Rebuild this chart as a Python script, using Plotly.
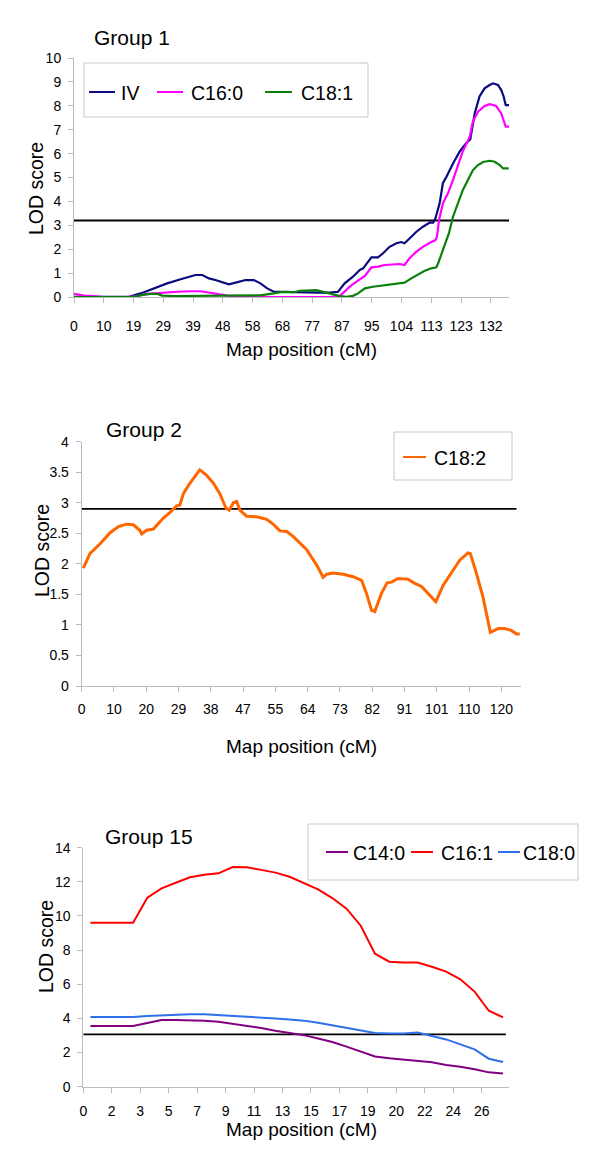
import plotly.graph_objects as go

W, H = 600, 1150
PAGE_OFFSET = 8  # the page body margin shifts the figure by 8 px
FONT = "Liberation Sans, Arial, Helvetica, sans-serif"

# ---------------- Group 1 ----------------
g1_ticktext = ["0", "10", "19", "29", "39", "48", "58", "68", "77", "87", "95", "104", "113", "123", "132"]
g1_threshold = 3.2

g1_iv_x = [0, 1.85, 2.24, 2.68, 3.13, 3.58, 3.91, 4.08, 4.31, 4.53, 4.75, 5.09, 5.2, 5.43, 5.59, 5.76,
           6.04, 6.26, 6.49, 6.71, 7.1, 7.38, 8.26, 8.59, 8.87, 9.09, 9.37, 9.6, 9.71, 9.88, 9.99, 10.21,
           10.38, 10.6, 10.83, 10.99, 11.1, 11.27, 11.5, 11.72, 11.95, 12.06, 12.14, 12.28, 12.39, 12.51,
           12.73, 12.96, 13.15, 13.31, 13.46, 13.62, 13.79, 13.96, 14.07, 14.24, 14.35, 14.43, 14.5, 14.61]
g1_iv_lod = [0.01, 0.01, 0.15, 0.36, 0.57, 0.74, 0.88, 0.92, 0.92, 0.78, 0.71, 0.57, 0.53, 0.6, 0.64, 0.71,
             0.71, 0.57, 0.36, 0.22, 0.22, 0.2, 0.18, 0.18, 0.22, 0.57, 0.85, 1.13, 1.2, 1.48, 1.66, 1.66,
             1.83, 2.1, 2.25, 2.3, 2.25, 2.45, 2.73, 2.94, 3.11, 3.11, 3.29, 3.92, 4.76, 5.03,
             5.59, 6.1, 6.4, 6.6, 7.69, 8.39, 8.73, 8.87, 8.94, 8.87, 8.66, 8.39, 8.03, 8.03]

g1_c160_x = [0, 0.34, 0.67, 1.0, 1.79, 2.13, 2.46, 2.68, 3.13, 3.47, 3.91, 4.25, 4.47, 4.81, 5.15, 5.59,
             6.26, 6.38, 8.59, 8.93, 9.09, 9.26, 9.49, 9.65, 9.77, 9.99, 10.21, 10.44, 10.72, 10.94, 11.1,
             11.27, 11.5, 11.72, 11.95, 12.14, 12.19, 12.26, 12.39, 12.56, 12.73, 12.9, 13.06, 13.29, 13.4,
             13.57, 13.79, 13.96, 14.18, 14.35, 14.5, 14.61]
g1_c160_lod = [0.13, 0.06, 0.04, 0.0, 0.0, 0.04, 0.13, 0.15, 0.21, 0.22, 0.24, 0.24, 0.2, 0.13, 0.06, 0.04,
               0.04, 0.0, 0.0, 0.04, 0.22, 0.43, 0.64, 0.78, 0.88, 1.24, 1.27, 1.34, 1.38, 1.38, 1.34,
               1.62, 1.9, 2.1, 2.27, 2.38, 2.52, 3.22, 3.92, 4.34, 4.9, 5.5, 6.1, 6.7, 7.35,
               7.75, 7.99, 8.07, 7.99, 7.68, 7.13, 7.13]

g1_c181_x = [0, 2.0, 2.24, 2.57, 2.8, 2.96, 3.36, 6.04, 6.26, 6.71, 6.94, 7.38, 7.58, 8.14, 8.37, 8.59,
             8.93, 9.15, 9.37, 9.54, 9.77, 10.04, 10.49, 10.94, 11.1, 11.33, 11.56, 11.78, 12.0, 12.17,
             12.23, 12.39, 12.59, 12.73, 12.9, 13.06, 13.23, 13.4, 13.57, 13.74, 13.96, 14.13, 14.3, 14.41, 14.6]
g1_c181_lod = [0.0, 0.0, 0.08, 0.13, 0.13, 0.06, 0.04, 0.04, 0.07, 0.15, 0.2, 0.2, 0.26, 0.29, 0.22, 0.13,
               0.04, 0.01, 0.05, 0.15, 0.36, 0.43, 0.5, 0.57, 0.6, 0.78, 0.95, 1.1, 1.2, 1.24,
               1.41, 1.97, 2.66, 3.36, 3.92, 4.48, 4.9, 5.31, 5.52, 5.65, 5.7, 5.66, 5.52, 5.38, 5.38]

# ---------------- Group 2 ----------------
g2_ticktext = ["0", "10", "20", "29", "38", "47", "55", "64", "73", "82", "91", "101", "110", "120"]
g2_threshold = 2.9

g2_c182_x = [0.05, 0.26, 0.57, 0.88, 1.14, 1.39, 1.6, 1.8, 1.86, 2.01, 2.22, 2.53, 2.73, 2.94, 3.04, 3.15,
             3.35, 3.56, 3.66, 3.87, 4.08, 4.28, 4.47, 4.57, 4.7, 4.8, 4.9, 5.11, 5.42, 5.73, 5.93, 6.14,
             6.35, 6.55, 6.76, 6.97, 7.28, 7.48, 7.59, 7.79, 8.1, 8.41, 8.67, 8.82, 8.98, 9.08, 9.29, 9.46,
             9.6, 9.8, 10.11, 10.32, 10.53, 10.73, 10.97, 11.2, 11.46, 11.71, 11.97, 12.04, 12.23, 12.43,
             12.66, 12.9, 13.1, 13.31, 13.47, 13.57]
g2_c182_lod = [1.93, 2.17, 2.33, 2.51, 2.61, 2.65, 2.64, 2.55, 2.49, 2.55, 2.57, 2.75, 2.84, 2.95, 2.96, 3.15,
               3.32, 3.48, 3.54, 3.45, 3.32, 3.15, 2.91, 2.88, 3.0, 3.02, 2.88, 2.78, 2.77, 2.73, 2.65, 2.54,
               2.53, 2.45, 2.34, 2.23, 1.98, 1.78, 1.83, 1.85, 1.83, 1.79, 1.73, 1.52, 1.24, 1.22, 1.52, 1.69,
               1.7, 1.76, 1.75, 1.68, 1.63, 1.52, 1.38, 1.65, 1.87, 2.06, 2.18, 2.17, 1.84, 1.46,
               0.88, 0.94, 0.94, 0.91, 0.85, 0.85]

# ---------------- Group 15 ----------------
g15_ticktext = ["0", "2", "3", "5", "7", "9", "11", "13", "15", "17", "19", "20", "22", "24", "26"]
g15_threshold = 3.07
g15_x = [0.25, 0.75, 1.25, 1.75, 2.25, 2.75, 3.25, 3.75, 4.25, 4.75, 5.25, 5.75, 6.25, 6.75, 7.25,
         7.75, 8.25, 8.75, 9.25, 9.75, 10.25, 10.75, 11.25, 11.75, 12.25, 12.75, 13.25, 13.75, 14.25, 14.75]
g15_c140 = [3.55, 3.55, 3.55, 3.55, 3.73, 3.9, 3.9, 3.9, 3.87, 3.8, 3.68, 3.57, 3.44, 3.28, 3.13,
            3.02, 2.82, 2.62, 2.35, 2.08, 1.77, 1.66, 1.58, 1.52, 1.43, 1.27, 1.17, 1.02, 0.84, 0.78]
g15_c161 = [9.61, 9.61, 9.61, 9.61, 11.07, 11.62, 11.95, 12.27, 12.42, 12.5, 12.87, 12.85, 12.7, 12.54, 12.3,
            11.95, 11.56, 11.05, 10.43, 9.43, 7.79, 7.32, 7.27, 7.27, 7.03, 6.74, 6.29, 5.57, 4.45, 4.06]
g15_c180 = [4.08, 4.08, 4.08, 4.08, 4.14, 4.18, 4.18, 4.24, 4.24, 4.2, 4.16, 4.1, 4.06, 4.0, 3.93,
            3.87, 3.75, 3.6, 3.44, 3.28, 3.14, 3.12, 3.12, 3.18, 2.99, 2.77, 2.48, 2.19, 1.64, 1.45]

# ---------------- layout geometry (screen pixels) ----------------
def xp(px):
    return (px - PAGE_OFFSET) / W

def yp(py):
    return 1 - (py - PAGE_OFFSET) / H

panels = [
    dict(x0=74, x1=509, yt=58, yb=297, xmax=14.61, ymax=10, dtick=1, thr_end=14.61, tstand=11),
    dict(x0=81.7, x1=520.7, yt=441.7, yb=686, xmax=13.6, ymax=4, dtick=0.5, thr_end=13.47, tstand=5),
    dict(x0=83.3, x1=509.3, yt=847.7, yb=1086.7, xmax=14.97, ymax=14, dtick=2, thr_end=14.85, tstand=6),
]
ticktexts = [g1_ticktext, g2_ticktext, g15_ticktext]
thresholds = [g1_threshold, g2_threshold, g15_threshold]

fig = go.Figure()

def add_line(x, y, color, width, k):
    sfx = "" if k == 1 else str(k)
    fig.add_trace(go.Scatter(x=x, y=y, mode="lines", line=dict(color=color, width=width),
                             xaxis="x" + sfx, yaxis="y" + sfx, showlegend=False, hoverinfo="skip"))

for i, p in enumerate(panels):
    add_line([0, p["thr_end"]], [thresholds[i], thresholds[i]], "#000000", 1.8, i + 1)

add_line(g1_iv_x, g1_iv_lod, "#0a0a80", 2.2, 1)
add_line(g1_c160_x, g1_c160_lod, "#ff00ff", 2.2, 1)
add_line(g1_c181_x, g1_c181_lod, "#0a800a", 2.2, 1)
add_line(g2_c182_x, g2_c182_lod, "#ff6600", 3.0, 2)
add_line(g15_x, g15_c140, "#800080", 2.0, 3)
add_line(g15_x, g15_c161, "#ff0000", 2.0, 3)
add_line(g15_x, g15_c180, "#2f6fe8", 2.0, 3)

axis_color = "#bcbcbc"
layout = dict(width=W, height=H, margin=dict(l=0, r=0, t=0, b=0, pad=0, autoexpand=False),
              paper_bgcolor="white", plot_bgcolor="white", showlegend=False,
              font=dict(family=FONT, color="black"))
for i, p in enumerate(panels):
    sfx = "" if i == 0 else str(i + 1)
    layout["xaxis" + sfx] = dict(
        domain=[xp(p["x0"]), xp(p["x1"])], range=[0, p["xmax"]], anchor="y" + sfx,
        tickmode="array", tickvals=list(range(len(ticktexts[i]))), ticktext=ticktexts[i],
        showline=True, linecolor=axis_color, linewidth=1, ticks="outside", ticklen=5,
        tickcolor=axis_color, showgrid=False, zeroline=False, automargin=False,
        tickfont=dict(size=14, family=FONT, color="black"), ticklabelstandoff=p["tstand"])
    layout["yaxis" + sfx] = dict(
        domain=[yp(p["yb"]), yp(p["yt"])], range=[0, p["ymax"]], anchor="x" + sfx,
        tick0=0, dtick=p["dtick"], showline=True, linecolor=axis_color, linewidth=1,
        ticks="outside", ticklen=5, tickcolor=axis_color, showgrid=False, zeroline=False,
        automargin=False,
        tickfont=dict(size=14, family=FONT, color="black"), ticklabelstandoff=4)

annotations = []
def text(s, px, py, size, angle=0, xanchor="center"):
    annotations.append(dict(text=s, x=xp(px), y=yp(py), xref="paper", yref="paper",
                            xanchor=xanchor, yanchor="middle", showarrow=False, textangle=angle,
                            font=dict(size=size, family=FONT, color="black")))

text("Group 1", 132, 37, 21)
text("Group 2", 144, 430, 21)
text("Group 15", 149, 836, 21)
for (xx, yy) in [(36, 189), (42, 551), (46, 947)]:
    text("LOD score", xx, yy, 19.5, angle=-90)
for yy in [350, 746, 1129]:
    text("Map position (cM)", 301, yy, 19)

shapes = []
def legend_box(x0, y0, x1, y1):
    shapes.append(dict(type="rect", xref="paper", yref="paper", x0=xp(x0), x1=xp(x1),
                       y0=yp(y1), y1=yp(y0), line=dict(color="#c8c8c8", width=1),
                       fillcolor="white", layer="above"))

def legend_item(lx0, lx1, ly, color, label, tx):
    shapes.append(dict(type="line", xref="paper", yref="paper", x0=xp(lx0), x1=xp(lx1),
                       y0=yp(ly), y1=yp(ly), line=dict(color=color, width=2), layer="above"))
    text(label, tx, ly + 1, 19.5, xanchor="left")

legend_box(84, 63, 368, 117)
legend_item(89, 115, 92, "#0a0a80", "IV", 119)
legend_item(157, 183, 92, "#ff00ff", "C16:0", 189)
legend_item(265, 292, 92, "#0a800a", "C18:1", 299)

legend_box(394, 432, 512, 480)
legend_item(403, 426, 457, "#ff6600", "C18:2", 432)

legend_box(308, 824, 578, 880)
legend_item(326, 348, 852, "#800080", "C14:0", 351)
legend_item(411, 433, 852, "#ff0000", "C16:1", 439)
legend_item(498, 520, 852, "#2f6fe8", "C18:0", 521)

layout["annotations"] = annotations
layout["shapes"] = shapes
layout["template"] = "none"
fig.update_layout(**layout)
fig.write_html("out.html")
